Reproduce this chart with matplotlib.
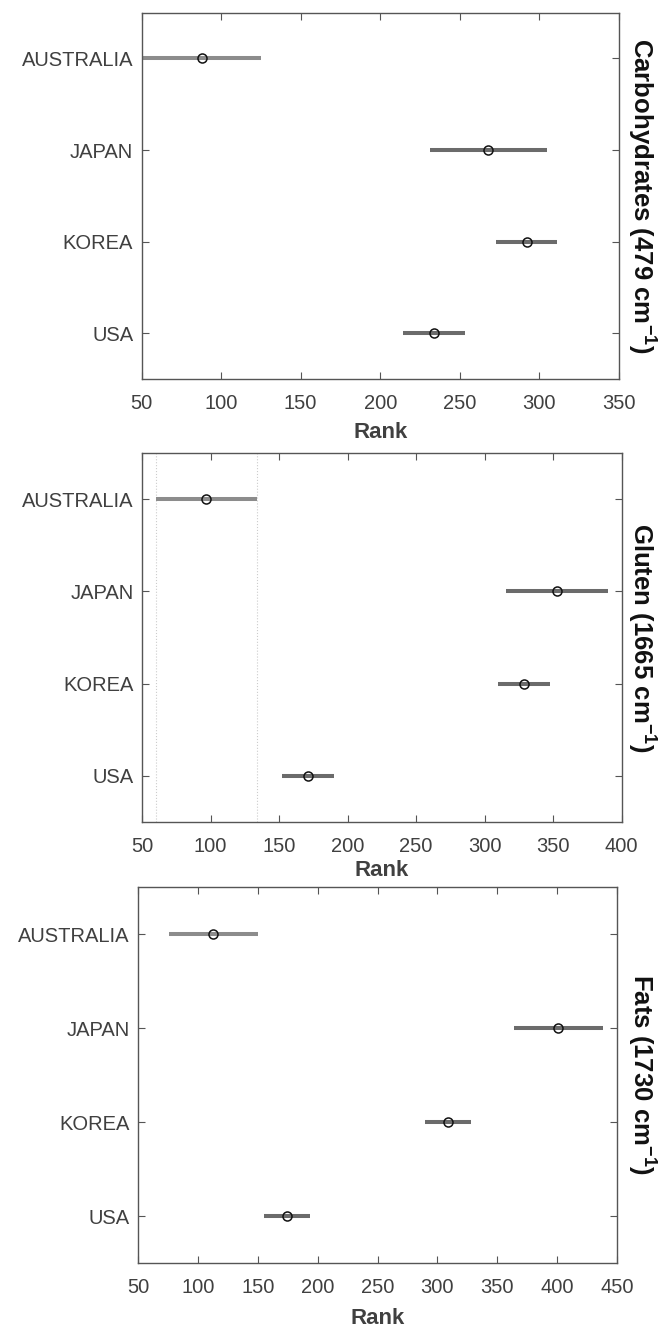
import matplotlib
matplotlib.use("Agg")
import matplotlib.pyplot as plt

countries = ["AUSTRALIA", "JAPAN", "KOREA", "USA"]

carb_mean = [88, 268, 292, 234]
carb_half = [37, 37, 19, 19.5]

gluten_mean = [97, 353, 329, 171]
gluten_half = [37, 37, 19, 19]

fats_mean = [113, 401, 309, 174.5]
fats_half = [37, 37, 19, 19]

panels = [
    ("Carbohydrates (479 cm$^{\\mathbf{-1}}$)", carb_mean, carb_half, (50, 350), list(range(50, 351, 50)), False),
    ("Gluten (1665 cm$^{\\mathbf{-1}}$)", gluten_mean, gluten_half, (50, 400), list(range(50, 401, 50)), True),
    ("Fats (1730 cm$^{\\mathbf{-1}}$)", fats_mean, fats_half, (50, 450), list(range(50, 451, 50)), False),
]

plt.rcParams['font.family'] = ['Liberation Sans', 'DejaVu Sans']
plt.rcParams['mathtext.fontset'] = 'custom'
plt.rcParams['mathtext.bf'] = 'Liberation Sans:bold'
plt.rcParams['mathtext.rm'] = 'Liberation Sans'
plt.rcParams['axes.unicode_minus'] = False

W, H = 658, 1331
fig = plt.figure(figsize=(W / 100, H / 100), dpi=100)

# axes boxes in pixels: left, right, top, bottom
boxes = [(141.5, 619, 12.7, 379), (142, 621.5, 453, 822), (138, 617, 887, 1263)]
xlabel_pad = [6, 3, 8]

axis_col = "#555555"
text_col = "#404040"
line_cols = ["#8c8c8c", "#6b6b6b", "#6b6b6b", "#6b6b6b"]

for (label, means, halfs, xlim, xticks, dotted), (l, r, t, b), lp in zip(panels, boxes, xlabel_pad):
    ax = fig.add_axes([l / W, 1 - b / H, (r - l) / W, (b - t) / H])
    ypos = list(range(len(countries)))
    for i, (m, h) in enumerate(zip(means, halfs)):
        ax.plot([m - h, m + h], [i, i], color=line_cols[i], lw=2.9, solid_capstyle='butt', zorder=2)
        ax.plot([m], [i], marker='o', ms=6.5, mfc='none', mec='#111111', mew=1.1, zorder=3)
    if dotted:
        m, h = means[0], halfs[0]
        for xv in (m - h, m + h):
            ax.axvline(xv, color='#cccccc', lw=0.8, ls=':', zorder=1)
    ax.set_xlim(*xlim)
    ax.set_ylim(len(countries) - 0.5, -0.5)
    ax.set_xticks(xticks)
    ax.set_yticks(ypos)
    ax.set_yticklabels(countries)
    ax.tick_params(axis='both', direction='in', length=5, width=0.8, color=axis_col,
                   labelsize=14.5, labelcolor=text_col, top=True, right=True, pad=6)
    ax.tick_params(axis='x', pad=11)
    for s in ax.spines.values():
        s.set_color(axis_col)
        s.set_linewidth(1.0)
    ax.set_xlabel("Rank", fontsize=16, fontweight='bold', color=text_col, labelpad=lp)
    fig.text(642 / W, 1 - ((t + b) / 2) / H, label, fontsize=18.5, fontweight='bold',
             color='#111111', rotation=-90, ha='center', va='center')

fig.savefig("out.png", dpi=100)
